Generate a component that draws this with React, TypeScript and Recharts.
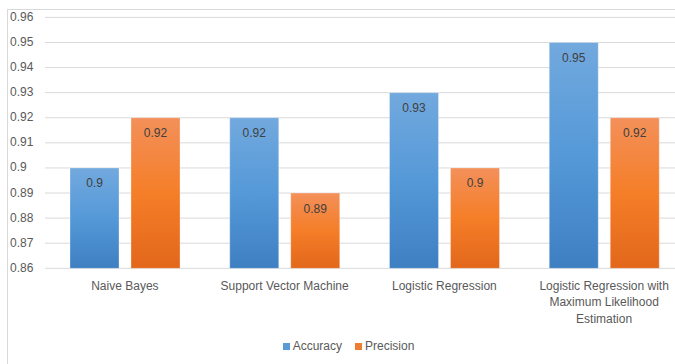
import React from 'react';
import { BarChart, Bar, XAxis, YAxis, CartesianGrid, Legend, LabelList } from 'recharts';

const categories = [
  'Naive Bayes',
  'Support Vector Machine',
  'Logistic Regression',
  'Logistic Regression with Maximum Likelihood Estimation',
];
const accuracy = [0.9, 0.92, 0.93, 0.95];
const precision = [0.92, 0.89, 0.9, 0.92];
const yTicks = [0.86, 0.87, 0.88, 0.89, 0.9, 0.91, 0.92, 0.93, 0.94, 0.95, 0.96];
const seriesNames = ['Accuracy', 'Precision'];

const data = categories.map((name, i) => ({
  name,
  accuracy: accuracy[i],
  precision: precision[i],
}));

const FONT = '"Liberation Sans", Arial, sans-serif';
const TICK_COLOR = '#595959';

let measureCtx: CanvasRenderingContext2D | null = null;
const measure = (s: string) => {
  if (!measureCtx) {
    const c = document.createElement('canvas');
    measureCtx = c.getContext('2d');
  }
  if (!measureCtx) return s.length * 6.5;
  measureCtx.font = '12px "Liberation Sans", Arial, sans-serif';
  return measureCtx.measureText(s).width;
};

const wrapWords = (text: string, maxWidth: number) => {
  const words = text.split(' ');
  const lines: string[] = [];
  let cur = '';
  words.forEach((w) => {
    const trial = cur ? cur + ' ' + w : w;
    if (cur && measure(trial) > maxWidth) {
      lines.push(cur);
      cur = w;
    } else {
      cur = trial;
    }
  });
  if (cur) lines.push(cur);
  return lines;
};

const XTick = (props: any) => {
  const { x, y, payload } = props;
  const lines = wrapWords(String(payload.value), 150);
  return (
    <text x={x} y={y + 21.5} textAnchor="middle" fill={TICK_COLOR} fontSize={12} fontFamily={FONT}>
      {lines.map((l, i) => (
        <tspan key={i} x={x} dy={i === 0 ? 0 : 16.5}>
          {l}
        </tspan>
      ))}
    </text>
  );
};

const YTick = (props: any) => {
  const { y, payload } = props;
  return (
    <text x={10} y={y} dy={3.5} textAnchor="start" fill={TICK_COLOR} fontSize={12} fontFamily={FONT}>
      {String(payload.value)}
    </text>
  );
};

const legendColors = ['#5B9BD5', '#ED7D31'];

const LegendContent = () => (
  <div
    style={{
      display: 'flex',
      justifyContent: 'center',
      alignItems: 'center',
      fontFamily: FONT,
      fontSize: 12,
      color: TICK_COLOR,
      lineHeight: '15px',
    }}
  >
    {seriesNames.map((n, i) => (
      <div key={n} style={{ display: 'flex', alignItems: 'center', marginLeft: i === 0 ? 0 : 13 }}>
        <span style={{ display: 'inline-block', width: 7, height: 7, background: legendColors[i], marginRight: 3 }} />
        <span>{n}</span>
      </div>
    ))}
  </div>
);

export default function App() {
  return (
    <div style={{ position: 'absolute', left: 0, top: 0, width: 675, height: 364, overflow: 'hidden', background: '#fff' }}>
      <div
        style={{
          position: 'absolute',
          left: 7,
          top: 9,
          width: 720,
          height: 400,
          border: '1px solid #D9D9D9',
          boxSizing: 'border-box',
        }}
      />
      <div style={{ position: 'absolute', left: 0, top: 0 }}>
        <BarChart
          width={700}
          height={364}
          data={data}
          margin={{ top: 17.4, right: 16, bottom: 0, left: 0 }}
          barCategoryGap={25}
          barGap={12}
          style={{ fontFamily: FONT }}
        >
          <defs>
            <linearGradient id="gradBlue" x1="0" y1="0" x2="0" y2="1">
              <stop offset="0%" stopColor="#72A9DE" />
              <stop offset="50%" stopColor="#5599D8" />
              <stop offset="100%" stopColor="#3E7FC2" />
            </linearGradient>
            <linearGradient id="gradOrange" x1="0" y1="0" x2="0" y2="1">
              <stop offset="0%" stopColor="#F3905A" />
              <stop offset="50%" stopColor="#F57E28" />
              <stop offset="100%" stopColor="#E2671B" />
            </linearGradient>
          </defs>
          <CartesianGrid vertical={false} stroke="#D9D9D9" />
          <XAxis
            dataKey="name"
            type="category"
            axisLine={false}
            tickLine={false}
            tickSize={0}
            tickMargin={0}
            height={95.7}
            interval={0}
            tick={<XTick />}
          />
          <YAxis
            type="number"
            domain={[0.86, 0.96]}
            ticks={yTicks}
            interval={0}
            width={45}
            axisLine={false}
            tickLine={false}
            tick={<YTick />}
          />
          <Legend
            layout="horizontal"
            verticalAlign="middle"
            align="center"
            wrapperStyle={{ top: 339, left: 0, width: 697 }}
            content={<LegendContent />}
          />
          <Bar
            dataKey="accuracy"
            name={seriesNames[0]}
            fill="url(#gradBlue)"
            stroke="#ffffff"
            strokeOpacity={0.3}
            isAnimationActive={false}
          >
            <LabelList dataKey="accuracy" position="insideTop" offset={11} fill="#404040" fontSize={12} fontFamily={FONT} />
          </Bar>
          <Bar
            dataKey="precision"
            name={seriesNames[1]}
            fill="url(#gradOrange)"
            stroke="#ffffff"
            strokeOpacity={0.3}
            isAnimationActive={false}
          >
            <LabelList dataKey="precision" position="insideTop" offset={11} fill="#404040" fontSize={12} fontFamily={FONT} />
          </Bar>
        </BarChart>
      </div>
    </div>
  );
}
